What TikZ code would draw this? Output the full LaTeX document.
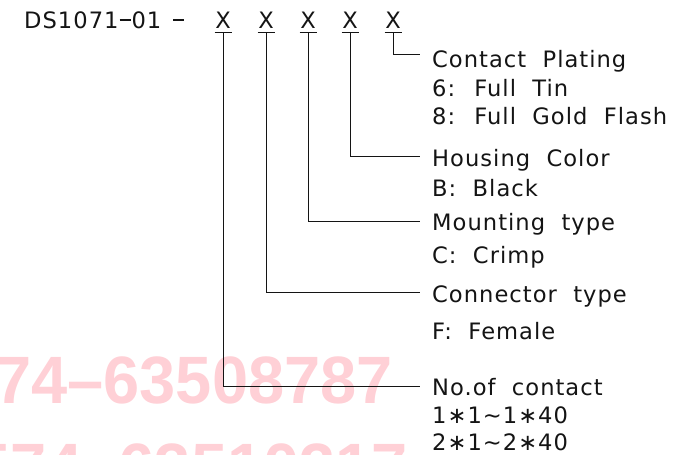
\documentclass[tikz,border=0pt]{standalone}
\usepackage{fontspec}
\setmainfont{DejaVu Sans}[WordSpace=2.0, LetterSpace=4.5]
\newfontfamily\wmfont{Liberation Sans}
\definecolor{wmpink}{RGB}{255,208,214}
\definecolor{ink}{RGB}{20,20,20}
\newcommand{\cdash}{\hspace{1pt}\rule[7.4pt]{11pt}{1.4pt}\hspace{1pt}}
\begin{document}
\begin{tikzpicture}[x=1pt,y=-1pt,
  lbl/.style={anchor=base west, inner sep=0pt, text=ink, font=\fontsize{22.6}{27}\selectfont},
  xch/.style={anchor=base, inner sep=0pt, text=ink, font=\fontsize{22.6}{27}\selectfont},
  wmark/.style={anchor=base west, inner sep=0pt, text=wmpink, font=\wmfont\bfseries\fontsize{67}{70}\selectfont},
  leader/.style={draw=ink, line width=1pt},
]
\useasboundingbox (0,0) rectangle (686,455);
% watermark
\begin{scope}
\clip (0,0) rectangle (686,455);
\node[wmark] (wm1) at (-5,403) {\scalebox{0.97}[1]{74–63508787}};
\node[wmark] (wm2) at (-26,490) {\scalebox{0.97}[1]{574–63510317}};
\end{scope}
% header
\node[lbl] (pn) at (24,28) {DS1071\cdash 01};
\node[lbl] (dash) at (173,28) {\rule[7.4pt]{11pt}{1.4pt}};
\foreach \i/\x in {1/223,2/266,3/308,4/350,5/393}{
  \node[xch] (x\i) at (\x,28) {X};
  \coordinate (u\i) at (\x,32);
  \draw[leader] (\x-8.5,32) -- (\x+8.5,32);
}
% leader end points
\coordinate (e5) at (420,54);
\coordinate (e4) at (420,156);
\coordinate (e3) at (420,221);
\coordinate (e2) at (420,292);
\coordinate (e1) at (420,386);
\foreach \i in {1,...,5}{\draw[leader] (u\i) |- (e\i);}
% labels
\node[lbl] (cp) at (432,67) {Contact Plating};
\node[lbl] (cp1) at (432,96) {6: Full Tin};
\node[lbl] (cp2) at (432,124.5) {8: Full Gold Flash};
\node[lbl] (hc) at (432,166) {Housing Color};
\node[lbl] (hc1) at (432,196) {B: Black};
\node[lbl] (mt) at (432,230) {Mounting type};
\node[lbl] (mt1) at (432,263.5) {C: Crimp};
\node[lbl] (ct) at (432,302) {Connector type};
\node[lbl] (ct1) at (432,339.5) {F: Female};
\node[lbl] (nc) at (432,395) {No.of contact};
\node[lbl] (nc1) at (432,423.5) {1∗1∼1∗40};
\node[lbl] (nc2) at (432,450) {2∗1∼2∗40};
\end{tikzpicture}
\end{document}
